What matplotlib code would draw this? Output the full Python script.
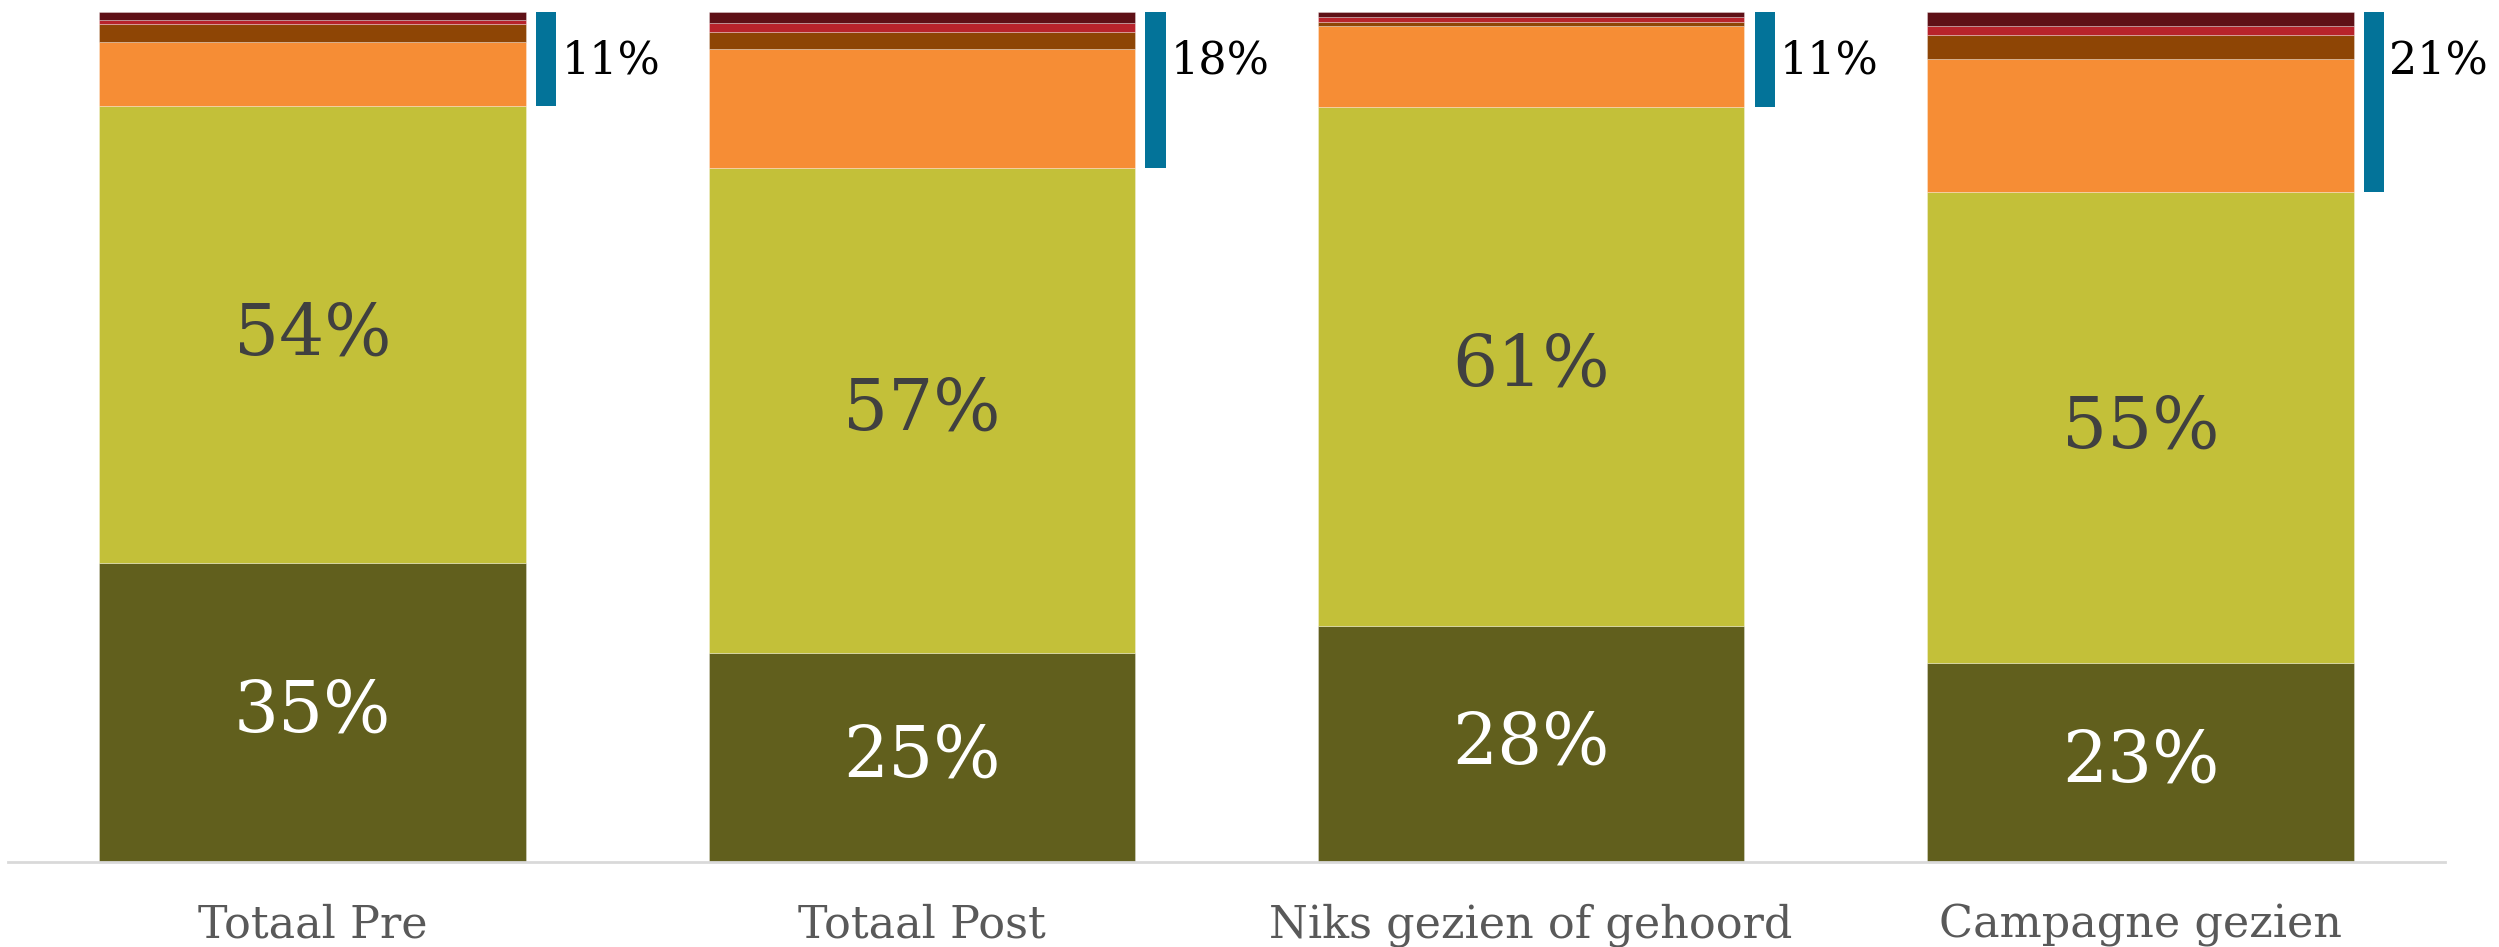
import matplotlib
matplotlib.use("Agg")
import matplotlib.pyplot as plt
import numpy as np

# categories and stacked shares (bottom to top), in %
categories = ["Totaal Pre", "Totaal Post", "Niks gezien of gehoord", "Campagne gezien"]
seg_1 = [35.2, 24.6, 27.8, 23.4]   # dark olive
seg_2 = [53.7, 57.1, 61.0, 55.4]   # yellow-green
seg_3 = [7.6, 13.9, 9.6, 15.7]     # orange
seg_4 = [2.1, 2.1, 0.4, 2.75]      # brown
seg_5 = [0.5, 1.0, 0.6, 1.06]      # red
seg_6 = [0.9, 1.3, 0.6, 1.65]      # dark maroon

colors = ["#615F1D", "#C3C039", "#F68D35", "#8E4505", "#B8232B", "#5E1016"]
bracket_color = "#037399"

plt.rcParams["font.family"] = ["DejaVu Serif"]

fig = plt.figure(figsize=(24.99, 9.47), dpi=100)
ax = fig.add_axes([0.0032, 0.0898, 0.9752, 0.8975])

x = np.arange(len(categories))
width = 0.70
segments = [seg_1, seg_2, seg_3, seg_4, seg_5, seg_6]
bottom = np.zeros(len(categories))
for vals, col in zip(segments, colors):
    vals = np.array(vals)
    ax.bar(x, vals, width, bottom=bottom, color=col, edgecolor=(1, 1, 1, 0.35),
           linewidth=0.6)
    bottom += vals

# value labels in the two big segments
for i in range(len(categories)):
    ax.text(x[i], seg_1[i] / 2, f"{round(seg_1[i])}%", ha="center", va="center",
            fontsize=51, color="white")
    ax.text(x[i], seg_1[i] + seg_2[i] / 2, f"{round(seg_2[i])}%", ha="center",
            va="center", fontsize=51, color="#404040")

# bracket for the top four segments
top_share = np.array(seg_3) + np.array(seg_4) + np.array(seg_5) + np.array(seg_6)
bw = 0.033
bx = x + width / 2 + 0.017 + bw / 2
ax.bar(bx, top_share, bw, bottom=bottom - top_share, color=bracket_color)
for i in range(len(categories)):
    ax.text(bx[i] + bw / 2 + 0.008, 94.2, f"{round(top_share[i])}%", ha="left",
            va="center", fontsize=32, color="black", clip_on=False)

ax.set_xlim(-0.5, 3.5)
ax.set_ylim(0, 100)
ax.set_xticks(x)
ax.set_xticklabels(categories, fontsize=32, color="#595959")
ax.tick_params(axis="x", length=0, pad=30)
ax.set_yticks([])
for s in ["top", "left", "right"]:
    ax.spines[s].set_visible(False)
ax.spines["bottom"].set_color("#D9D9D9")
ax.spines["bottom"].set_linewidth(2)

fig.savefig("out.png", dpi=100)
